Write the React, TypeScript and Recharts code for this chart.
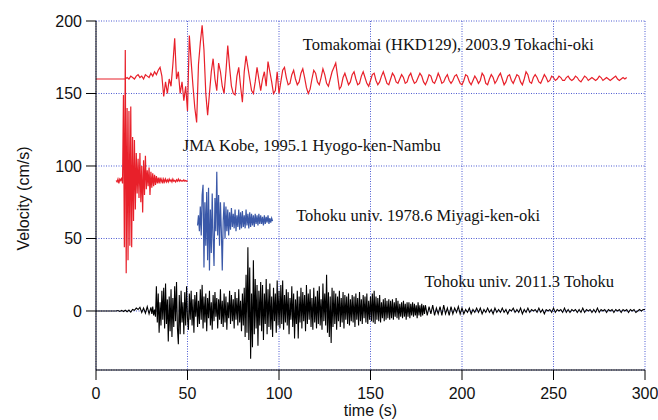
import React from 'react'
import { LineChart, Line, XAxis, YAxis, CartesianGrid, ReferenceDot, Label } from 'recharts'

// axis ticks
const xTicks = [0, 50, 100, 150, 200, 250, 300]
const yTicks = [0, 50, 100, 150, 200]

// Tomakomai (HKD129), 2003.9 Tokachi-oki -- offset +160, dt = 1 s from t = 0
const tomakomaiStart = 0
const tomakomaiStep = 1
const tomakomaiVel = [
  160, 160, 160, 160, 160, 160, 160, 160, 160, 160, 160, 160, 160, 160, 160, 160,
  160, 161, 160, 162, 161, 160, 162, 163, 161, 162,
  160, 163, 162, 161, 164, 162, 165, 163, 166, 168,
  162, 148, 158, 150, 160, 155, 170, 188, 160, 165,
  150, 158, 145, 155, 138, 190, 172, 155, 140, 130,
  170, 185, 197, 180, 150, 135, 150, 165, 174, 160,
  152, 171, 165, 155, 150, 165, 183, 168, 155, 150,
  149, 162, 168, 155, 144, 165, 176, 168, 160, 152,
  150, 158, 168, 160, 152, 160, 165, 155, 172, 165,
  158, 150, 152, 165,
  150, 158, 166, 168, 161, 156, 157, 163, 166, 160,
  156, 158, 164, 167, 161, 154, 150, 153, 160, 166,
  164, 158, 156, 161, 167, 163, 157, 155, 160, 165,
  168, 171, 162, 153, 155, 161, 164, 160, 156, 158,
  163, 165, 160, 156, 157, 162, 165, 161, 157, 155,
  159, 163, 164, 159, 156, 158, 162, 165, 161, 157,
  156, 160, 164, 162, 158, 157, 160, 163, 161, 157,
  158, 162, 164, 160, 157, 158, 161, 164, 162, 158,
  156, 159, 163, 162, 158, 157, 160, 164, 161, 157,
  158, 161, 163, 159, 157, 159, 162, 163, 160, 157,
  156, 159, 163, 162, 158, 156, 159, 162, 160, 157,
  159, 164, 162, 157, 156, 160, 163, 161, 157, 159,
  162, 164, 160, 156, 158, 162, 163, 159, 157, 160,
  163, 162, 158, 156, 160, 165, 163, 158, 157, 161,
  163, 161, 158, 157, 160, 163, 161, 158, 159, 162,
  161, 159, 160, 162, 161, 159, 159, 161, 162, 160,
  159, 160, 162, 161, 159, 158, 160, 162, 161, 159,
  160, 161, 160, 159, 160, 162, 161, 159, 160, 161,
  160, 159, 160, 161, 162, 160, 159, 160, 161, 160, 161,
]

// JMA Kobe, 1995.1 Hyogo-ken-Nambu -- offset +90, dt = 0.5 s from t = 11
const kobeStart = 11
const kobeStep = 0.5
const kobeVel = [
  90, 89, 91, 88, 91, 90, 92, 88, 149, 44,
  180, 26, 140, 35, 138, 45, 141, 44, 120, 62,
  118, 70, 109, 81, 105, 78, 109, 75, 100, 68,
  104, 80, 107, 84, 97, 86, 99, 80, 96, 85,
  95, 86, 94, 87, 93, 88, 92, 88, 92, 89,
  91, 88, 91, 89, 91, 89, 90.5, 89, 91, 89.5,
  90.5, 89, 91, 89.5, 90, 89, 90.5, 89.5, 91, 89.5,
  90.5, 89.5, 90, 89.5, 90.5, 89.5, 90, 89.5, 90,
]

// Tohoku univ. 1978.6 Miyagi-ken-oki -- offset +60, dt = 0.5 s from t = 55.5
const miyagiStart = 55.5
const miyagiStep = 0.5
const miyagiVel = [
  59, 66, 55, 72, 52, 80, 87, 30, 75, 45,
  82, 35, 85, 28, 70, 40, 81, 50, 31, 78,
  55, 96, 52, 80, 45, 75, 55, 28, 62, 75,
  50, 72, 55, 70, 52, 68, 56, 71, 58, 67,
  57, 70, 55, 66, 58, 70, 56, 68, 57, 69,
  58, 66, 57, 70, 59, 67, 57, 68, 58, 67,
  59, 66, 58, 67, 60, 66, 59, 67, 60, 66,
  60, 65, 59, 66, 60, 65, 61, 66, 60, 64,
  61, 64, 62,
]

// Tohoku univ. 2011.3 Tohoku -- no offset, three pieces with different dt
const tohokuEarlyStart = 0
const tohokuEarlyStep = 1
const tohokuEarlyVel = [
  0, 0, 0, 0, 0, 0, 0, 0, 0, 0, 0, 0,
  0.3, -0.3, 0.4, -0.4, 0.5, -0.5, 0.6, -0.8, 1, 0.5,
  2, 1, 2.5, -1, 2, -1.5, 3, -2, 2.5,
]
const tohokuMainStart = 30.5
const tohokuMainStep = 0.5
const tohokuMainVel = [
  -2, 3, -3, 1, -4, 17, -8, 12, -15, 6, -10, 14, -6, 16, -12, 19, -9, 8, -21, 10,
  -14, 15, -18, 9, -11, 17, -7, 20, -12, -23, 11, -16, 14, -8, 6, -16, 13, -10, 17, -5,
  -13, 12, -6, 14, -10, 8, -15, 11, -4, 13, -11, 7, -9, 15, -6, 18, -12, 10, -8, 12,
  -14, 9, -5, 14, -10, 6, -13, 11, -7, 13, -4, 9, -12, 8, -6, 15, -9, 7, -11, 12,
  -8, 10, -13, 6, -5, 14, -9, 11, -7, 8, -12, 13, -6, 9, -10, 15, -8, 7, -14, 12,
  -10, 16, -18, 25, -15, 44, -20, 30, -33, 12, -25, 35, -16, 22, -12, 18, -24, 14, -10, 20,
  -14, 18, -20, 12, -9, 22, -16, 15, -11, 19, -13, 10, -18, 16, -7, 12, -15, 21, -10, 14,
  -12, 18, -9, 21, -13, 11, -8, 15, -10, 13, -16, 9, -6, 17, -11, 12, -19, 8, -9, 14,
  -19, 10, -8, 16, -12, 13, -7, 11, -14, 18, -9, 12, -6, 15, -11, 9, -13, 16, -8, 10,
  -12, 14, -9, 17, -10, 8, -13, 19, -7, 12, -10, 25, -15, 13, -18, 10, -22, 16, -11, 14,
  -9, 12, -13, 10, -7, 14, -11, 9, -8, 13, -12, 11, -6, 10, -9, 12, -10, 8, -7, 11,
  -8, 10, -11, 12, -6, 9, -10, 13, -7, 8, -9, 11, -5, 10, -8, 12, -9, 7, -6, 10,
  -7, 12, -8, 14, -9, 10, -6, 9, -7, 11, -8, 6, -5, 8, -7, 9, -6, 7, -5, 8,
  -6, 7, -5, 8, -6, 6, -4, 9, -5, 7, -6, 5, -4, 6, -5, 7, -4, 5, -6, 6,
  -4, 6, -5, 5, -3, 6, -4, 5, -3, 4, -5, 6, -3, 4, -4, 5, -3, 4, -2, 4,
]
const tohokuLateStart = 181
const tohokuLateStep = 1
const tohokuLateVel = [
  -3, 3, -2, 4, -3, 2, -2, 3, -3, 4, -2, 2, -3, 3, -2, 2, -1, 3, -2, 2,
  -2, 1, -1, 2, -2, 1, -1, 2, -1, 2, -2, 1, -1, 2, -1, 1, -2, 2, -1, 1,
  -1, 2, -1, 1, -2, 1, 0, 2, -1, 1, -1, 2, -2, 1, -1, 2, -1, 1, 0, 1,
  -1, 2, -1, 1, -2, 1, 0, 1, -1, 2, -1, 1, 0, 1, -1, 2, -1, 1, -1, 1,
  0, 1, -1, 1, -1, 2, -1, 1, 0, 1, -1, 1, -1, 2, -1, 1, 0, 1, -1, 1,
  0, 1, -1, 1, 0, 1, -1, 1, 0, 1, -1, 1, 0, 1, -1, 0, 1, 0, 1, 1,
]

// captions: [time, velocity] of the start of the baseline
const captions = [
  { t: 113, v: 180, text: 'Tomakomai (HKD129), 2003.9 Tokachi-oki' },
  { t: 47.4, v: 110.5, text: 'JMA Kobe, 1995.1 Hyogo-ken-Nambu' },
  { t: 109.4, v: 62, text: 'Tohoku univ. 1978.6 Miyagi-ken-oki' },
  { t: 179.5, v: 16.5, text: 'Tohoku univ. 2011.3 Tohoku' },
]

const toPoints = (start: number, step: number, vals: number[]) =>
  vals.map((v, i) => ({ t: Math.round((start + i * step) * 100) / 100, v }))

const tomakomai = toPoints(tomakomaiStart, tomakomaiStep, tomakomaiVel)
const kobe = toPoints(kobeStart, kobeStep, kobeVel)
const miyagi = toPoints(miyagiStart, miyagiStep, miyagiVel)
const tohoku = [
  ...toPoints(tohokuEarlyStart, tohokuEarlyStep, tohokuEarlyVel),
  ...toPoints(tohokuMainStart, tohokuMainStep, tohokuMainVel),
  ...toPoints(tohokuLateStart, tohokuLateStep, tohokuLateVel),
]

const sans = "'Liberation Sans', Arial, sans-serif"
const serif = "'Liberation Serif', 'Times New Roman', serif"

const Caption = (props: any) => {
  const { viewBox, caption } = props
  if (!viewBox) return null
  return (
    <text x={viewBox.x} y={viewBox.y} fontFamily={serif} fontSize={16.5} fill="#111">
      {caption}
    </text>
  )
}

const XTitle = (props: any) => {
  const vb = props.viewBox
  return (
    <text x={vb.x + vb.width / 2} y={vb.y + 46} textAnchor="middle" fontFamily={sans} fontSize={16} fill="#111">
      time (s)
    </text>
  )
}

const YTitle = (props: any) => {
  const vb = props.viewBox
  const cx = 23
  const cy = vb.y + vb.height / 2 + 3
  return (
    <text x={cx} y={cy} transform={`rotate(-90 ${cx} ${cy})`} textAnchor="middle" dominantBaseline="central"
      fontFamily={sans} fontSize={16} fill="#111">
      Velocity (cm/s)
    </text>
  )
}

export default function App() {
  return (
    <div style={{ position: 'absolute', left: 0, top: 0, background: '#fff' }}>
      <LineChart width={658} height={420} margin={{ top: 21, right: 13, bottom: 0, left: 0 }}>
        <CartesianGrid stroke="#4d5bd2" strokeDasharray="1 1.5" />
        <XAxis type="number" dataKey="t" domain={[0, 300]} ticks={xTicks} allowDataOverflow height={50}
          axisLine={{ stroke: '#000' }} tickLine={{ stroke: '#000' }} tickSize={10} tickMargin={8}
          tick={{ fill: '#111', fontSize: 16, fontFamily: sans }}>
          <Label content={XTitle} />
        </XAxis>
        <YAxis type="number" domain={[-40.7, 200]} ticks={yTicks} allowDataOverflow width={96}
          axisLine={{ stroke: '#000' }} tickLine={{ stroke: '#000' }} tickSize={10} tickMargin={4}
          tick={{ fill: '#111', fontSize: 16, fontFamily: sans }}>
          <Label content={YTitle} />
        </YAxis>
        <Line data={tohoku} dataKey="v" stroke="#000" strokeWidth={1.1} dot={false} activeDot={false} isAnimationActive={false} />
        <Line data={tomakomai} dataKey="v" stroke="#e8202a" strokeWidth={1.2} dot={false} activeDot={false} isAnimationActive={false} />
        <Line data={kobe} dataKey="v" stroke="#e8202a" strokeWidth={1.2} dot={false} activeDot={false} isAnimationActive={false} />
        <Line data={miyagi} dataKey="v" stroke="#3a58a8" strokeWidth={1.2} dot={false} activeDot={false} isAnimationActive={false} />
        {captions.map((c) => (
          <ReferenceDot key={c.text} x={c.t} y={c.v} r={0} fill="none" stroke="none"
            label={<Caption caption={c.text} />} />
        ))}
      </LineChart>
    </div>
  )
}
